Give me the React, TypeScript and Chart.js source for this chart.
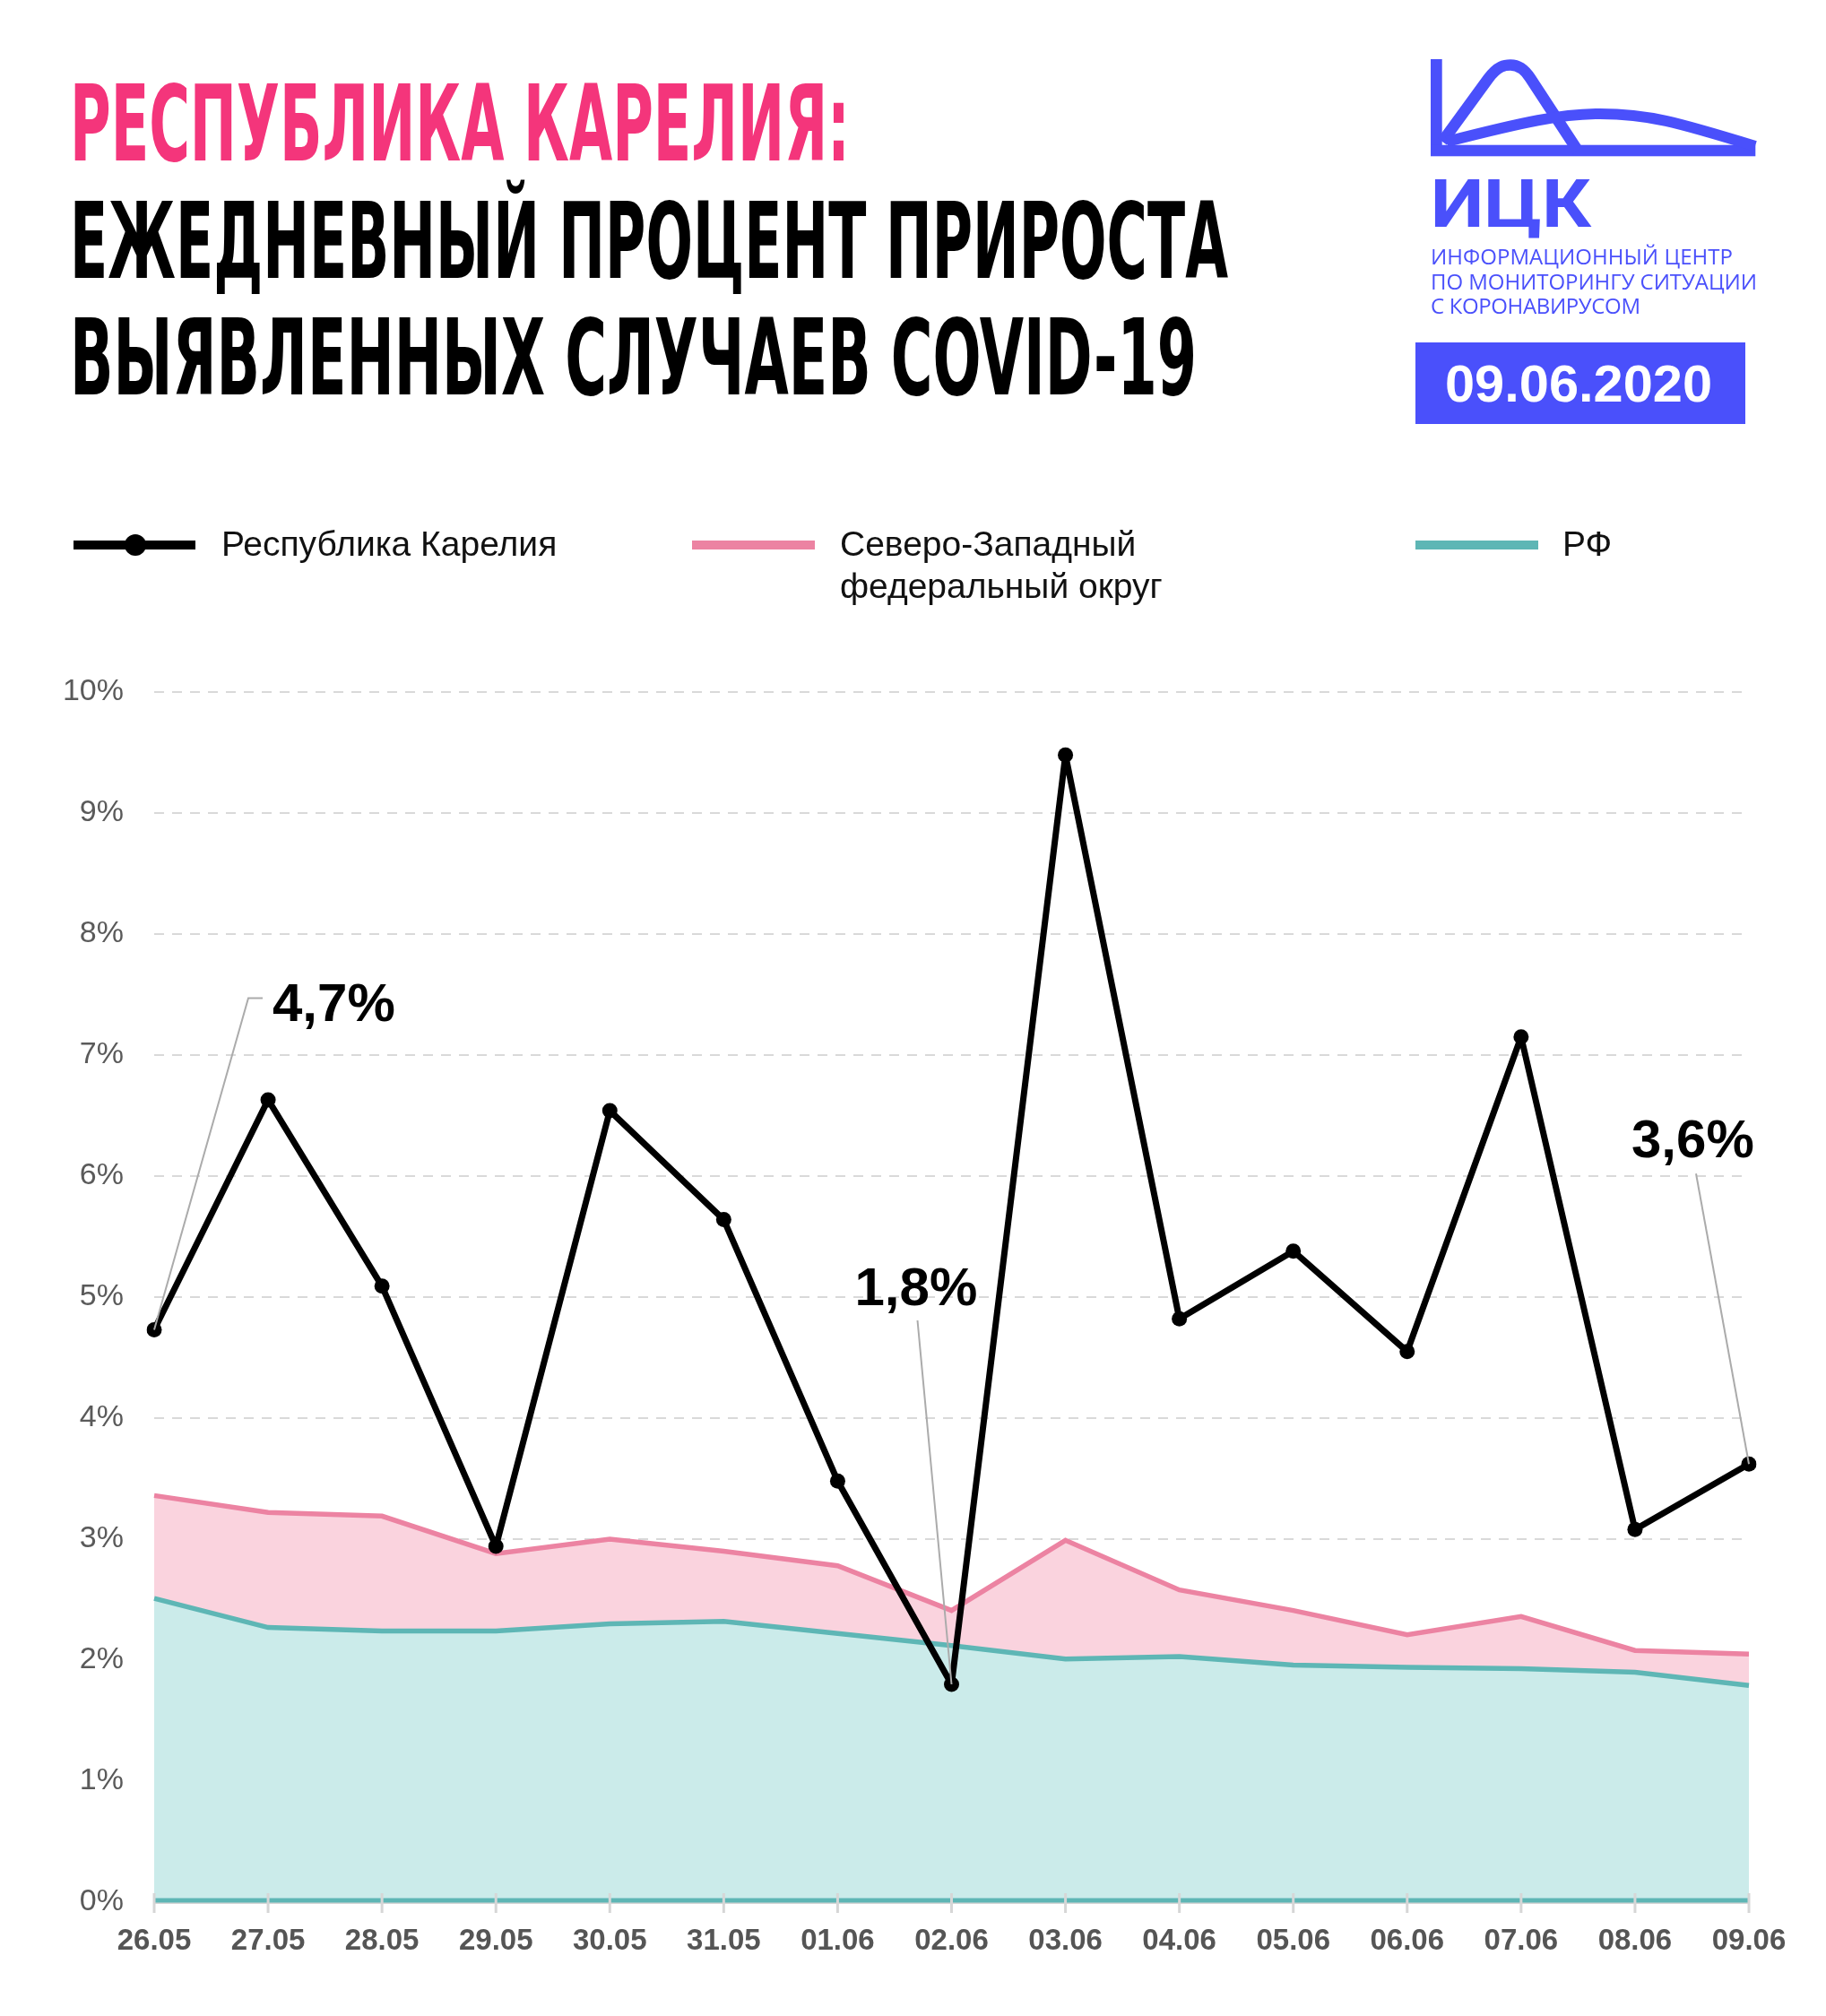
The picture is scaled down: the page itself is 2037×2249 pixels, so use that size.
import React, { useEffect, useRef, useState } from 'react';
import { Chart, registerables } from 'chart.js';

Chart.register(...registerables);

// ---------- DATA ----------
const dates = ['26.05', '27.05', '28.05', '29.05', '30.05', '31.05', '01.06', '02.06', '03.06', '04.06', '05.06', '06.06', '07.06', '08.06', '09.06'];
const kareliaValues = [4.73, 6.63, 5.09, 2.94, 6.54, 5.64, 3.48, 1.8, 9.48, 4.82, 5.38, 4.55, 7.15, 3.08, 3.62];
const nwValues = [3.36, 3.22, 3.19, 2.88, 3.0, 2.9, 2.78, 2.41, 2.99, 2.58, 2.41, 2.21, 2.36, 2.08, 2.05];
const rfValues = [2.51, 2.27, 2.24, 2.24, 2.3, 2.32, 2.22, 2.12, 2.01, 2.03, 1.96, 1.94, 1.93, 1.9, 1.79];
const yMin = 0;
const yMax = 10;
const yStep = 1;

const seriesNames = ['Республика Карелия', 'Северо-Западный федеральный округ', 'РФ'];
const annotatedIndexes = [0, 7, 14];
const annotationTexts = ['4,7%', '1,8%', '3,6%'];

// ---------- STYLE / LAYOUT ----------
const W = 2037;
const H = 2249;
const CANVAS_TOP = 700;
const CANVAS_H = H - CANVAS_TOP;
const FONT = "'Liberation Sans', Arial, Helvetica, sans-serif";
const BLUE = '#4A50FB';
const PINK_TITLE = '#F4357B';
const PINK_LINE = '#EC83A2';
const PINK_FILL = '#FAD3DE';
const TEAL_LINE = '#5EB6B5';
const TEAL_FILL = '#CBEBEA';

// leader-line / label offsets relative to the annotated point (pixels)
const annotationLayout = [
  { path: [[105, -370], [121, -370]], label: [132, -344] },
  { path: [[-38, -406]], label: [-108, -423] },
  { path: [[-59, -324]], label: [-131, -342] },
];

type LabelPos = { x: number; y: number; text: string };

export default function App() {
  const canvasRef = useRef<HTMLCanvasElement | null>(null);
  const [labels, setLabels] = useState<LabelPos[]>([]);

  useEffect(() => {
    document.body.style.margin = '0';
    const canvas = canvasRef.current;
    if (!canvas) return;

    const overlayPlugin = {
      id: 'overlay',
      afterDatasetsDraw(chart: any) {
        const { ctx, chartArea, scales } = chart;
        // teal baseline at 0 %
        const y0 = scales.y.getPixelForValue(0);
        ctx.save();
        ctx.strokeStyle = TEAL_LINE;
        ctx.lineWidth = 5;
        ctx.beginPath();
        ctx.moveTo(chartArea.left, y0 - 2);
        ctx.lineTo(chartArea.right, y0 - 2);
        ctx.stroke();
        // leader lines
        const meta = chart.getDatasetMeta(0);
        ctx.strokeStyle = '#ababab';
        ctx.lineWidth = 2;
        annotatedIndexes.forEach((idx, i) => {
          const pt = meta.data[idx];
          ctx.beginPath();
          ctx.moveTo(pt.x, pt.y);
          annotationLayout[i].path.forEach(([dx, dy]) => ctx.lineTo(pt.x + dx, pt.y + dy));
          ctx.stroke();
        });
        ctx.restore();
      },
      afterDraw(chart: any) {
        const { ctx, chartArea, scales } = chart;
        const xs = scales.x;
        ctx.save();
        ctx.strokeStyle = '#d6d6d6';
        ctx.lineWidth = 3;
        xs.ticks.forEach((_: any, i: number) => {
          const x = xs.getPixelForTick(i);
          ctx.beginPath();
          ctx.moveTo(x, chartArea.bottom - 10);
          ctx.lineTo(x, chartArea.bottom + 12);
          ctx.stroke();
        });
        ctx.restore();
      },
    };

    const chart = new Chart(canvas, {
      type: 'line',
      data: {
        labels: dates,
        datasets: [
          {
            label: seriesNames[0],
            data: kareliaValues,
            borderColor: '#000',
            backgroundColor: '#000',
            borderWidth: 7,
            pointRadius: 8.5,
            pointBackgroundColor: '#000',
            pointBorderWidth: 0,
            tension: 0,
            fill: false,
            borderJoinStyle: 'round',
          },
          {
            label: seriesNames[1],
            data: nwValues,
            borderColor: PINK_LINE,
            backgroundColor: PINK_FILL,
            borderWidth: 5.5,
            pointRadius: 0,
            tension: 0,
            fill: '+1',
          },
          {
            label: seriesNames[2],
            data: rfValues,
            borderColor: TEAL_LINE,
            backgroundColor: TEAL_FILL,
            borderWidth: 5.5,
            pointRadius: 0,
            tension: 0,
            fill: 'origin',
          },
        ],
      },
      options: {
        responsive: false,
        animation: false,
        devicePixelRatio: 1,
        layout: { padding: { top: 72, right: 86, left: 0, bottom: 0 } },
        plugins: {
          legend: { display: false },
          tooltip: { enabled: false },
          filler: { drawTime: 'beforeDatasetsDraw' },
        },
        scales: {
          x: {
            type: 'category',
            offset: false,
            z: 1,
            grid: { display: false, drawTicks: false },
            border: { display: true, color: '#d6d6d6', width: 3 },
            ticks: {
              autoSkip: false,
              maxRotation: 0,
              padding: 24,
              color: '#555555',
              font: { family: FONT, size: 33, weight: 'bold' },
            },
            afterFit: (s: any) => {
              s.height = 127;
            },
          },
          y: {
            min: yMin,
            max: yMax,
            ticks: {
              stepSize: yStep,
              padding: 34,
              color: '#5a5a5a',
              font: { family: FONT, size: 34 },
              callback: (v: any) => `${v}%`,
            },
            grid: {
              drawTicks: false,
              lineWidth: 2,
              color: (c: any) => (c.tick && c.tick.value === 0 ? 'rgba(0,0,0,0)' : '#d9d9d9'),
            },
            border: { display: false, dash: [11, 9] },
            afterFit: (s: any) => {
              s.width = 172;
            },
          },
        },
      } as any,
      plugins: [overlayPlugin],
    });

    const meta = chart.getDatasetMeta(0);
    setLabels(
      annotatedIndexes.map((idx, i) => {
        const pt: any = meta.data[idx];
        return {
          x: pt.x + annotationLayout[i].label[0],
          y: CANVAS_TOP + pt.y + annotationLayout[i].label[1],
          text: annotationTexts[i],
        };
      })
    );

    return () => chart.destroy();
  }, []);

  const titleFont = "'DejaVu Sans Condensed', 'DejaVu Sans', sans-serif";
  const logoFont = "'Open Sans', Roboto, sans-serif";

  return (
    <div style={{ position: 'absolute', left: 0, top: 0, width: W, height: H, background: '#fff', overflow: 'hidden' }}>
      <canvas
        ref={canvasRef}
        width={W}
        height={CANVAS_H}
        style={{ position: 'absolute', left: 0, top: CANVAS_TOP, width: W, height: CANVAS_H }}
      />
      <svg
        width={W}
        height={H}
        viewBox={`0 0 ${W} ${H}`}
        style={{ position: 'absolute', left: 0, top: 0, pointerEvents: 'none' }}
      >
        {/* Title */}
        <text x={78} y={179} fontFamily={titleFont} fontWeight={700} fontSize={117} fill={PINK_TITLE} textLength={870} lengthAdjust="spacingAndGlyphs">
          РЕСПУБЛИКА КАРЕЛИЯ:
        </text>
        <text x={78} y={310} fontFamily={titleFont} fontWeight={700} fontSize={117} fill="#000" textLength={1292} lengthAdjust="spacingAndGlyphs">
          ЕЖЕДНЕВНЫЙ ПРОЦЕНТ ПРИРОСТА
        </text>
        <text x={78} y={440} fontFamily={titleFont} fontWeight={700} fontSize={117} fill="#000" textLength={1257} lengthAdjust="spacingAndGlyphs">
          ВЫЯВЛЕННЫХ СЛУЧАЕВ COVID-19
        </text>

        {/* Logo */}
        <rect x={1596} y={66} width={12.7} height={108} fill={BLUE} />
        <rect x={1596} y={161.7} width={362.3} height={12.6} fill={BLUE} />
        <path
          d="M1609,158 L1660,88 C1671,73 1679,72.5 1685,72.5 C1692,72.5 1700,76 1707,87 L1760,168"
          fill="none"
          stroke={BLUE}
          strokeWidth={12.6}
        />
        <path
          d="M1614,158 C1700,136 1742,127 1785,127 C1838,127 1870,136 1958,163"
          fill="none"
          stroke={BLUE}
          strokeWidth={12}
        />
        <text x={1596} y={253} fontFamily="Roboto, 'Open Sans', sans-serif" fontWeight={700} fontSize={75} fill={BLUE} textLength={179} lengthAdjust="spacingAndGlyphs">
          ИЦК
        </text>
        <text x={1596} y={295} fontFamily={logoFont} fontWeight={400} fontSize={24} fill={BLUE} textLength={337} lengthAdjust="spacing">
          ИНФОРМАЦИОННЫЙ ЦЕНТР
        </text>
        <text x={1596} y={323} fontFamily={logoFont} fontWeight={400} fontSize={24} fill={BLUE} textLength={364} lengthAdjust="spacing">
          ПО МОНИТОРИНГУ СИТУАЦИИ
        </text>
        <text x={1596} y={350} fontFamily={logoFont} fontWeight={400} fontSize={24} fill={BLUE} textLength={234} lengthAdjust="spacing">
          С КОРОНАВИРУСОМ
        </text>
        <rect x={1579} y={382} width={368} height={91} fill={BLUE} />
        <text x={1612} y={448} fontFamily={FONT} fontWeight={700} fontSize={57} fill="#fff" textLength={298} lengthAdjust="spacingAndGlyphs">
          09.06.2020
        </text>

        {/* Legend */}
        <line x1={82} y1={608} x2={218} y2={608} stroke="#000" strokeWidth={10} />
        <circle cx={151} cy={608} r={12} fill="#000" />
        <text x={247} y={620} fontFamily={FONT} fontSize={39} fill="#111">
          {seriesNames[0]}
        </text>
        <line x1={772} y1={608} x2={909} y2={608} stroke={PINK_LINE} strokeWidth={10} />
        <text x={937} y={620} fontFamily={FONT} fontSize={39} fill="#111">
          Северо-Западный
        </text>
        <text x={937} y={667} fontFamily={FONT} fontSize={39} fill="#111">
          федеральный округ
        </text>
        <line x1={1579} y1={608} x2={1716} y2={608} stroke={TEAL_LINE} strokeWidth={10} />
        <text x={1743} y={620} fontFamily={FONT} fontSize={39} fill="#111">
          {seriesNames[2]}
        </text>

        {/* Annotations */}
        {labels.map((l, i) => (
          <text key={i} x={l.x} y={l.y} fontFamily={FONT} fontWeight={700} fontSize={60} fill="#000">
            {l.text}
          </text>
        ))}
      </svg>
    </div>
  );
}
